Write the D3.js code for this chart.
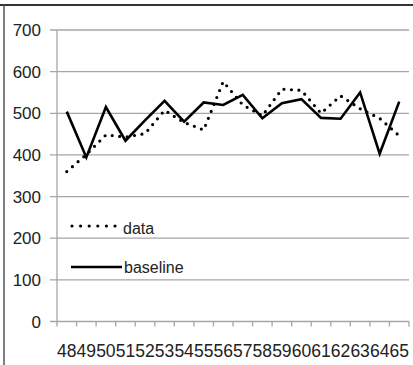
<!DOCTYPE html>
<html>
<head>
<meta charset="utf-8">
<script src="https://cdn.jsdelivr.net/npm/d3@7"></script>
<style>
  html, body { margin: 0; padding: 0; background: #fff; }
  svg { display: block; font-family: "Liberation Sans", Arial, sans-serif; }
</style>
</head>
<body>
<svg id="chart" width="413" height="365"></svg>
<script>
// categories on the x axis
const categories = ["48","49","50","51","52","53","54","55","56","57","58","59","60","61","62","63","64","65"];
// series
const dataValues = [360, 401, 448, 443, 451, 507, 478, 460, 576, 520, 494, 558, 555, 500, 542, 511, 488, 446];
const baselineValues = [504, 394, 515, 434, 483, 530, 480, 526, 520, 544, 488, 524, 534, 489, 487, 550, 403, 528];
// y ticks
const yTicks = [0, 100, 200, 300, 400, 500, 600, 700];

const svg = d3.select("#chart");

// frame lines (top and left border of the sheet)
svg.append("line").attr("x1", 0).attr("x2", 413).attr("y1", 5).attr("y2", 5)
  .attr("stroke", "#333").attr("stroke-width", 2);
svg.append("line").attr("x1", 4).attr("x2", 4).attr("y1", 5).attr("y2", 365)
  .attr("stroke", "#555").attr("stroke-width", 1.5);

const x = d3.scaleBand().domain(categories).range([57, 409]).padding(0);
const y = d3.scaleLinear().domain([0, 700]).range([321.5, 30]);

// horizontal gridlines + y labels
const grid = svg.append("g");
grid.selectAll("line")
  .data(yTicks)
  .enter().append("line")
  .attr("x1", 50).attr("x2", 409)
  .attr("y1", d => y(d)).attr("y2", d => y(d))
  .attr("stroke", "#a6a6a6").attr("stroke-width", 1.3);

grid.selectAll("text")
  .data(yTicks)
  .enter().append("text")
  .attr("x", 41)
  .attr("y", d => y(d))
  .attr("dy", "0.36em")
  .attr("text-anchor", "end")
  .attr("font-size", 17)
  .attr("fill", "#222")
  .text(d => d);

// y axis line
svg.append("line").attr("x1", 57).attr("x2", 57).attr("y1", y(700)).attr("y2", y(0))
  .attr("stroke", "#a6a6a6").attr("stroke-width", 1.3);

// x axis ticks at band edges
const edges = categories.map(c => x(c)).concat([x.range()[1]]);
svg.append("g").selectAll("line")
  .data(edges)
  .enter().append("line")
  .attr("x1", d => d).attr("x2", d => d)
  .attr("y1", y(0)).attr("y2", y(0) + 5)
  .attr("stroke", "#a6a6a6").attr("stroke-width", 1.3);

// x labels
svg.append("g").selectAll("text")
  .data(categories)
  .enter().append("text")
  .attr("x", d => x(d) + x.bandwidth() / 2)
  .attr("y", 356.5)
  .attr("text-anchor", "middle")
  .attr("font-size", 17.5)
  .attr("fill", "#222")
  .text(d => d);

const line = d3.line()
  .x((d, i) => x(categories[i]) + x.bandwidth() / 2)
  .y(d => y(d));

// data series (dotted)
svg.append("path")
  .datum(dataValues)
  .attr("d", line)
  .attr("fill", "none")
  .attr("stroke", "#000")
  .attr("stroke-width", 3.2)
  .attr("stroke-linecap", "round")
  .attr("stroke-dasharray", "0,7.5");

// baseline series (solid)
svg.append("path")
  .datum(baselineValues)
  .attr("d", line)
  .attr("fill", "none")
  .attr("stroke", "#000")
  .attr("stroke-width", 2.6)
  .attr("stroke-linejoin", "miter");

// legend
const legend = svg.append("g");
legend.append("line").attr("x1", 72).attr("x2", 116).attr("y1", 226).attr("y2", 226)
  .attr("stroke", "#000").attr("stroke-width", 3.2)
  .attr("stroke-linecap", "round").attr("stroke-dasharray", "0,8.6");
legend.append("text").attr("x", 123).attr("y", 234).attr("font-size", 16)
  .attr("fill", "#222").text("data");

legend.append("line").attr("x1", 71).attr("x2", 122).attr("y1", 267).attr("y2", 267)
  .attr("stroke", "#000").attr("stroke-width", 2.6);
legend.append("text").attr("x", 124).attr("y", 273).attr("font-size", 16)
  .attr("fill", "#222").text("baseline");
</script>
</body>
</html>
